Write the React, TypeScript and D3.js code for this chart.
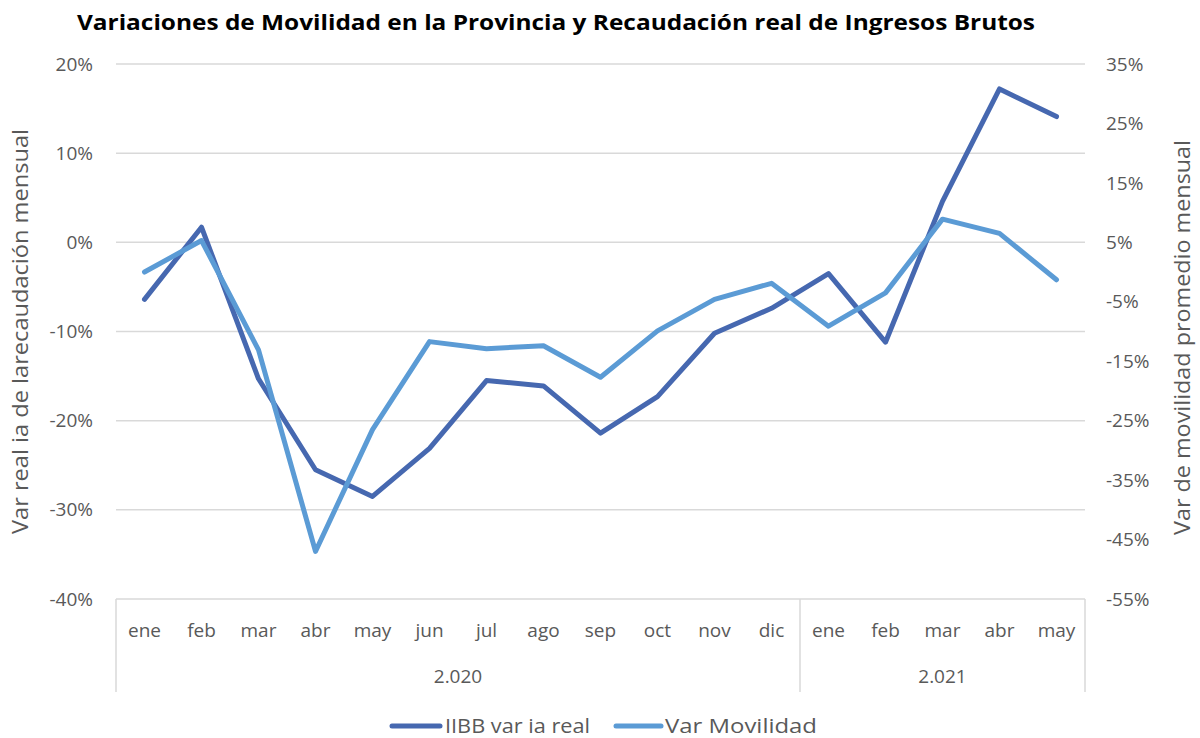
import React from 'react';
import * as d3 from 'd3';

const months = ['ene', 'feb', 'mar', 'abr', 'may', 'jun', 'jul', 'ago', 'sep', 'oct', 'nov', 'dic', 'ene', 'feb', 'mar', 'abr', 'may'];
const years = [
  { label: '2.020', from: 0, to: 11 },
  { label: '2.021', from: 12, to: 16 }
];
const iibb = [-6.4, 1.7, -15.3, -25.5, -28.5, -23.1, -15.5, -16.1, -21.4, -17.3, -10.2, -7.4, -3.5, -11.2, 4.6, 17.2, 14.1];
const movilidad = [0, 5.3, -13.1, -47, -26.5, -11.7, -12.9, -12.4, -17.7, -9.9, -4.6, -1.9, -9.1, -3.5, 8.9, 6.5, -1.3];
const leftTicks = [20, 10, 0, -10, -20, -30, -40];
const rightTicks = [35, 25, 15, 5, -5, -15, -25, -35, -45, -55];

const W = 1200, H = 738;
const margin = { top: 64, right: 115, bottom: 139, left: 116 };
const font = '"Open Sans", sans-serif';
const grey = '#595959';

export default function App() {
  const idx = months.map((_, i) => i);
  const x = d3.scaleBand<number>().domain(idx).range([margin.left, W - margin.right]);
  const yL = d3.scaleLinear().domain([-40, 20]).range([H - margin.bottom, margin.top]);
  const yR = d3.scaleLinear().domain([-55, 35]).range([H - margin.bottom, margin.top]);
  const cx = (i: number) => (x(i) as number) + x.bandwidth() / 2;

  const lineL = d3.line<number>().x((_, i) => cx(i)).y(d => yL(d));
  const lineR = d3.line<number>().x((_, i) => cx(i)).y(d => yR(d));

  const bottom = H - margin.bottom;
  const x0 = margin.left, x1 = W - margin.right;

  return (
    <div style={{ position: 'absolute', left: 0, top: 0 }}>
      <svg width={W} height={H} style={{ display: 'block', background: '#fff' }}>
        <text x={77} y={30} fontFamily={font} fontWeight="bold" fontSize={22} fill="#000" textLength={958} lengthAdjust="spacingAndGlyphs">
          Variaciones de Movilidad en la Provincia y Recaudación real de Ingresos Brutos
        </text>

        {leftTicks.map(t => (
          <g key={'l' + t}>
            <line x1={x0} x2={x1} y1={yL(t)} y2={yL(t)} stroke="#d9d9d9" strokeWidth={1.5} />
            <text x={93} y={yL(t)} dy="0.35em" textAnchor="end" fontFamily={font} fontSize={19} fill={grey}>{t}%</text>
          </g>
        ))}
        {rightTicks.map(t => (
          <text key={'r' + t} x={1106} y={yR(t)} dy="0.35em" textAnchor="start" fontFamily={font} fontSize={19} fill={grey}>{t}%</text>
        ))}

        <text transform={`translate(28,${(margin.top + bottom) / 2}) rotate(-90)`} textAnchor="middle" fontFamily={font} fontSize={21} fill={grey} textLength={405} lengthAdjust="spacingAndGlyphs">
          Var real ia de larecaudación mensual
        </text>
        <text transform={`translate(1190,${(margin.top + bottom) / 2 + 6}) rotate(-90)`} textAnchor="middle" fontFamily={font} fontSize={21} fill={grey} textLength={395} lengthAdjust="spacingAndGlyphs">
          Var de movilidad promedio mensual
        </text>

        {/* category axis boxes */}
        <line x1={x0} x2={x0} y1={bottom} y2={692} stroke="#d9d9d9" strokeWidth={1.5} />
        <line x1={x1} x2={x1} y1={bottom} y2={692} stroke="#d9d9d9" strokeWidth={1.5} />
        <line x1={x(12) as number} x2={x(12) as number} y1={bottom} y2={692} stroke="#d9d9d9" strokeWidth={1.5} />
        {months.map((m, i) => (
          <text key={'m' + i} x={cx(i)} y={637} textAnchor="middle" fontFamily={font} fontSize={19} fill={grey}>{m}</text>
        ))}
        {years.map(yr => (
          <text key={yr.label} x={((x(yr.from) as number) + (x(yr.to) as number) + x.bandwidth()) / 2} y={683} textAnchor="middle" fontFamily={font} fontSize={19} fill={grey}>{yr.label}</text>
        ))}

        <path d={lineL(iibb) || ''} fill="none" stroke="#4668b0" strokeWidth={5} strokeLinejoin="round" strokeLinecap="round" />
        <path d={lineR(movilidad) || ''} fill="none" stroke="#5b9bd5" strokeWidth={5} strokeLinejoin="round" strokeLinecap="round" />

        {/* legend */}
        <line x1={392} x2={440} y1={726} y2={726} stroke="#4668b0" strokeWidth={5} strokeLinecap="round" />
        <text x={445} y={726} dy="0.35em" fontFamily={font} fontSize={20} fill={grey} textLength={145} lengthAdjust="spacingAndGlyphs">IIBB var ia real</text>
        <line x1={616} x2={661} y1={726} y2={726} stroke="#5b9bd5" strokeWidth={5} strokeLinecap="round" />
        <text x={665} y={726} dy="0.35em" fontFamily={font} fontSize={20} fill={grey} textLength={152} lengthAdjust="spacingAndGlyphs">Var Movilidad</text>
      </svg>
    </div>
  );
}
